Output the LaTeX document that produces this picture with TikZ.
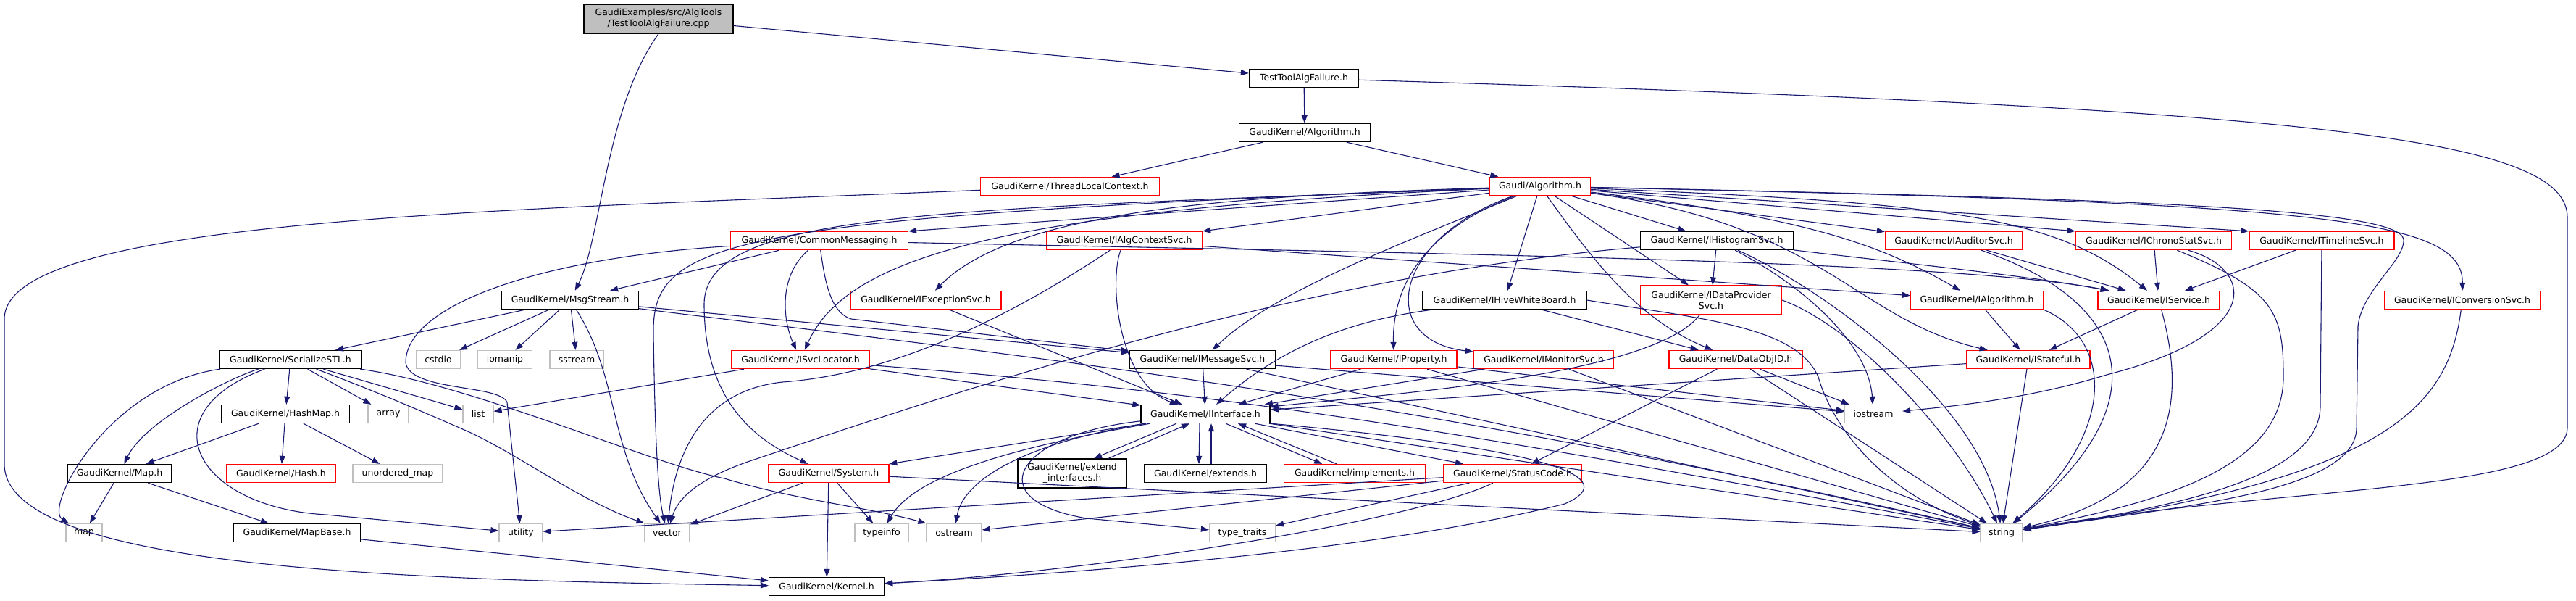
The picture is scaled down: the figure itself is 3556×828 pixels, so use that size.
\documentclass[tikz,border=0pt]{standalone}
\usepackage{fontspec}
\setmainfont{DejaVu Sans}
\usetikzlibrary{arrows.meta}
\definecolor{edgeblue}{HTML}{191970}
\definecolor{boxgray}{HTML}{BFBFBF}
\begin{document}
\begin{tikzpicture}[x=1pt, y=1pt,
    hdr/.style={draw=black, fill=white, line width=1.3pt, minimum height=25pt,
      inner sep=0pt, align=center, font=\fontsize{12.5}{15}\selectfont},
    redhdr/.style={hdr, draw=red},
    syshdr/.style={hdr, draw=boxgray},
    edge/.style={draw=edgeblue, line width=1.1pt, -{Triangle[length=11pt,width=8pt]}}]
    \useasboundingbox (0,0) rectangle (3556,-828);

    % source file and headers
    \node[hdr, fill=boxgray, minimum width=206pt, minimum height=40pt] (root) at (909,-26) {GaudiExamples/src/AlgTools\\/TestToolAlgFailure.cpp};
    \node[hdr, minimum width=151pt] (ttaf) at (1800,-108) {TestToolAlgFailure.h};
    \node[hdr, minimum width=181pt] (gkalg) at (1801,-183) {GaudiKernel/Algorithm.h};
    \node[redhdr, minimum width=247pt] (tlc) at (1477,-257) {GaudiKernel/ThreadLocalContext.h};
    \node[redhdr, minimum width=139pt] (galg) at (2126,-257) {Gaudi/Algorithm.h};
    \node[redhdr, minimum width=245pt] (cmsg) at (1131,-332) {GaudiKernel/CommonMessaging.h};
    \node[redhdr, minimum width=215pt] (iacs) at (1552,-332) {GaudiKernel/IAlgContextSvc.h};
    \node[hdr, minimum width=211pt] (ihist) at (2370,-332) {GaudiKernel/IHistogramSvc.h};
    \node[redhdr, minimum width=189pt] (iaud) at (2697,-332) {GaudiKernel/IAuditorSvc.h};
    \node[redhdr, minimum width=215pt] (ichrono) at (2973,-332) {GaudiKernel/IChronoStatSvc.h};
    \node[redhdr, minimum width=200pt] (itime) at (3205,-332) {GaudiKernel/ITimelineSvc.h};
    \node[hdr, minimum width=189pt] (msg) at (787,-414) {GaudiKernel/MsgStream.h};
    \node[redhdr, minimum width=208pt] (iexc) at (1278,-414) {GaudiKernel/IExceptionSvc.h};
    \node[hdr, minimum width=226pt] (ihive) at (2077,-414) {GaudiKernel/IHiveWhiteBoard.h};
    \node[redhdr, minimum width=195pt, minimum height=40pt] (idps) at (2362,-414) {GaudiKernel/IDataProvider\\Svc.h};
    \node[redhdr, minimum width=183pt] (ialgo) at (2729,-414) {GaudiKernel/IAlgorithm.h};
    \node[redhdr, minimum width=168pt] (isvc) at (2980,-414) {GaudiKernel/IService.h};
    \node[redhdr, minimum width=215pt] (iconv) at (3399,-414) {GaudiKernel/IConversionSvc.h};
    \node[hdr, minimum width=196pt] (ser) at (401,-496) {GaudiKernel/SerializeSTL.h};
    \node[syshdr, minimum width=61pt] (cstdio) at (605,-496) {cstdio};
    \node[syshdr, minimum width=75pt] (iomanip) at (697,-496) {iomanip};
    \node[syshdr, minimum width=74pt] (sstream) at (796,-496) {sstream};
    \node[redhdr, minimum width=190pt] (isl) at (1105,-496) {GaudiKernel/ISvcLocator.h};
    \node[hdr, minimum width=202pt] (imsgsvc) at (1660,-496) {GaudiKernel/IMessageSvc.h};
    \node[redhdr, minimum width=174pt] (iprop) at (1924,-496) {GaudiKernel/IProperty.h};
    \node[redhdr, minimum width=193pt] (imon) at (2131,-496) {GaudiKernel/IMonitorSvc.h};
    \node[redhdr, minimum width=184pt] (doid) at (2396,-496) {GaudiKernel/DataObjID.h};
    \node[redhdr, minimum width=170pt] (istate) at (2800,-496) {GaudiKernel/IStateful.h};
    \node[hdr, minimum width=177pt] (hmap) at (394,-571) {GaudiKernel/HashMap.h};
    \node[syshdr, minimum width=56pt] (array) at (536,-571) {array};
    \node[syshdr, minimum width=42pt] (list) at (660,-571) {list};
    \node[hdr, minimum width=178pt] (iint) at (1664,-571) {GaudiKernel/IInterface.h};
    \node[syshdr, minimum width=79pt] (iostream) at (2586,-571) {iostream};
    \node[hdr, minimum width=144pt] (gkmap) at (165,-653) {GaudiKernel/Map.h};
    \node[redhdr, minimum width=150pt] (hash) at (388,-653) {GaudiKernel/Hash.h};
    \node[syshdr, minimum width=124pt] (umap) at (549,-653) {unordered\_map};
    \node[redhdr, minimum width=166pt] (sys) at (1144,-653) {GaudiKernel/System.h};
    \node[hdr, minimum width=150pt, minimum height=40pt] (extif) at (1480,-653) {GaudiKernel/extend\\\_interfaces.h};
    \node[hdr, minimum width=169pt] (exts) at (1664,-653) {GaudiKernel/extends.h};
    \node[redhdr, minimum width=195pt] (impl) at (1870,-653) {GaudiKernel/implements.h};
    \node[redhdr, minimum width=190pt] (stc) at (2088,-653) {GaudiKernel/StatusCode.h};
    \node[syshdr, minimum width=50pt] (stlmap) at (116,-735) {map};
    \node[hdr, minimum width=175pt] (mapbase) at (410,-735) {GaudiKernel/MapBase.h};
    \node[syshdr, minimum width=60pt] (utility) at (719,-735) {utility};
    \node[syshdr, minimum width=62pt] (vector) at (921,-735) {vector};
    \node[syshdr, minimum width=74pt] (typeinfo) at (1217,-735) {typeinfo};
    \node[syshdr, minimum width=76pt] (ostream) at (1317,-735) {ostream};
    \node[syshdr, minimum width=91pt] (ttraits) at (1715,-735) {type\_traits};
    \node[syshdr, minimum width=58pt] (string) at (2763,-735) {string};
    \node[hdr, minimum width=159pt] (kernel) at (1141,-809) {GaudiKernel/Kernel.h};

    % top of the graph
    \draw[edge] (root) -- (ttaf);
    \draw[edge] (root.south) .. controls (835,-150) and (830,-330) .. (msg);
    \draw[edge] (ttaf) -- (gkalg);
    \draw[edge] (ttaf) .. controls (3200,-150) and (3544,-190) .. (3544,-300) -- (3544,-590) .. controls (3544,-680) and (3150,-670) .. (string);
    \draw[edge] (gkalg) -- (tlc);
    \draw[edge] (gkalg) -- (galg);
    \draw[edge] (tlc) .. controls (700,-290) and (6,-300) .. (6,-440) -- (6,-640) .. controls (6,-790) and (600,-800) .. (kernel);

    % Gaudi/Algorithm.h
    \draw[edge] (galg) -- (cmsg.north east);
    \draw[edge] (galg) -- (iacs.north east);
    \draw[edge] (galg) .. controls (1700,-270) and (1400,-290) .. (iexc);
    \draw[edge] (galg) .. controls (1400,-290) and (1170,-350) .. (isl);
    \draw[edge] (galg) .. controls (1300,-290) and (972,-290) .. (972,-420) .. controls (972,-560) and (1050,-610) .. (sys);
    \draw[edge] (galg) .. controls (1000,-300) and (900,-330) .. (902,-460) .. controls (904,-600) and (908,-680) .. (vector);
    \draw[edge] (galg) .. controls (1950,-330) and (1760,-400) .. (imsgsvc);
    \draw[edge] (galg) -- (ihive);
    \draw[edge] (galg) .. controls (1960,-320) and (1922,-400) .. (iprop);
    \draw[edge] (galg) .. controls (1920,-330) and (1900,-470) .. (imon);
    \draw[edge] (galg) .. controls (2200,-360) and (2260,-440) .. (doid);
    \draw[edge] (galg) -- (idps);
    \draw[edge] (galg) -- (ihist);
    \draw[edge] (galg) -- (iaud);
    \draw[edge] (galg) .. controls (2500,-300) and (2600,-340) .. (ialgo);
    \draw[edge] (galg) .. controls (2520,-310) and (2560,-440) .. (istate);
    \draw[edge] (galg) .. controls (2700,-280) and (2840,-300) .. (isvc);
    \draw[edge] (galg) -- (ichrono.north west);
    \draw[edge] (galg) -- (itime.north west);
    \draw[edge] (galg) .. controls (3200,-280) and (3400,-300) .. (iconv);
    \draw[edge] (galg) .. controls (3000,-275) and (3310,-290) .. (3318,-330) .. controls (3320,-360) and (3260,-400) .. (3255,-450) -- (3253,-590) .. controls (3253,-680) and (3000,-700) .. (string);

    % CommonMessaging.h
    \draw[edge] (cmsg) .. controls (750,-355) and (560,-420) .. (560,-500) .. controls (565,-540) and (690,-530) .. (700,-555) -- (utility);
    \draw[edge] (cmsg) -- (msg);
    \draw[edge] (cmsg) .. controls (1075,-380) and (1080,-440) .. (isl);
    \draw[edge] (cmsg) .. controls (1140,-400) and (1150,-432) .. (1175,-440) -- (imsgsvc);
    \draw[edge] (cmsg) .. controls (2000,-350) and (2700,-360) .. (isvc);

    % second row services
    \draw[edge] (iacs) .. controls (1530,-390) and (1545,-530) .. (iint);
    \draw[edge] (iacs) .. controls (1420,-420) and (1250,-515) .. (1080,-527) .. controls (960,-540) and (930,-640) .. (vector);
    \draw[edge] (iacs) -- (ialgo);
    \draw[edge] (ihist) -- (idps);
    \draw[edge] (ihist) .. controls (1800,-380) and (1350,-530) .. (1044,-633) .. controls (960,-660) and (935,-690) .. (vector);
    \draw[edge] (ihist) .. controls (2500,-400) and (2580,-480) .. (iostream);
    \draw[edge] (ihist) .. controls (2520,-400) and (2740,-560) .. (string);
    \draw[edge] (ihist) .. controls (2600,-360) and (2800,-380) .. (isvc);
    \draw[edge] (iaud) -- (isvc);
    \draw[edge] (iaud) .. controls (2950,-420) and (2980,-560) .. (string);
    \draw[edge] (ichrono) -- (isvc);
    \draw[edge] (ichrono) .. controls (3110,-370) and (3130,-460) .. (2908,-517) .. controls (2800,-550) and (2700,-560) .. (iostream);
    \draw[edge] (ichrono) .. controls (3140,-400) and (3152,-430) .. (3152,-520) .. controls (3152,-640) and (3000,-690) .. (string);
    \draw[edge] (itime) -- (isvc);
    \draw[edge] (itime) -- (3203,-560) .. controls (3203,-660) and (3000,-700) .. (string);
    \draw[edge] (iconv) .. controls (3380,-560) and (3300,-660) .. (string);

    % MsgStream.h
    \draw[edge] (msg) -- (ser);
    \draw[edge] (msg) -- (cstdio);
    \draw[edge] (msg) -- (iomanip);
    \draw[edge] (msg) -- (sstream);
    \draw[edge] (msg) .. controls (855,-520) and (840,-620) .. (vector);
    \draw[edge] (msg) -- (imsgsvc);
    \draw[edge] (msg) .. controls (1400,-490) and (1900,-540) .. (string);

    % SerializeSTL.h and maps
    \draw[edge] (ser) -- (hmap);
    \draw[edge] (ser) .. controls (320,-520) and (200,-580) .. (gkmap);
    \draw[edge] (ser) .. controls (150,-530) and (60,-700) .. (stlmap);
    \draw[edge] (ser) -- (array);
    \draw[edge] (ser) -- (list);
    \draw[edge] (ser) .. controls (650,-530) and (900,-640) .. (1000,-660) .. controls (1100,-690) and (1200,-700) .. (ostream.north west);
    \draw[edge] (ser) .. controls (200,-570) and (270,-700) .. (450,-710) -- (utility);
    \draw[edge] (ser) .. controls (520,-540) and (600,-575) .. (650,-597) .. controls (720,-630) and (800,-690) .. (vector.north west);
    \draw[edge] (hmap) -- (gkmap);
    \draw[edge] (hmap) -- (hash);
    \draw[edge] (hmap) -- (umap);
    \draw[edge] (gkmap) -- (stlmap);
    \draw[edge] (gkmap) -- (mapbase);
    \draw[edge] (mapbase) -- (kernel);

    % interfaces
    \draw[edge] (isl) -- (list);
    \draw[edge] (isl) -- (iint);
    \draw[edge] (isl) .. controls (1600,-535) and (1900,-570) .. (string);
    \draw[edge] (iexc) -- (iint);
    \draw[edge] (imsgsvc) -- (iint);
    \draw[edge] (imsgsvc) -- (iostream);
    \draw[edge] (imsgsvc) -- (string);
    \draw[edge] (ihive) .. controls (1880,-440) and (1780,-470) .. (iint);
    \draw[edge] (ihive) -- (doid);
    \draw[edge] (ihive.east) .. controls (2350,-440) and (2480,-450) .. (2510,-520) .. controls (2530,-590) and (2600,-680) .. (string);
    \draw[edge] (idps) .. controls (2280,-520) and (1900,-545) .. (iint);
    \draw[edge] (idps.east) .. controls (2560,-450) and (2700,-600) .. (string);
    \draw[edge] (iprop) -- (iint);
    \draw[edge] (iprop) -- (iostream);
    \draw[edge] (iprop) -- (string);
    \draw[edge] (imon) -- (iint);
    \draw[edge] (imon) -- (string);
    \draw[edge] (doid) -- (stc);
    \draw[edge] (doid) -- (iostream);
    \draw[edge] (doid) -- (string);
    \draw[edge] (istate) -- (iint);
    \draw[edge] (istate) -- (string);
    \draw[edge] (ialgo) -- (istate);
    \draw[edge] (ialgo.south east) .. controls (2920,-470) and (2920,-600) .. (string);
    \draw[edge] (isvc) -- (istate);
    \draw[edge] (isvc) .. controls (3020,-560) and (3000,-680) .. (string);

    % IInterface.h
    \draw[edge] (iint) -- (sys);
    \draw[edge] (iint) .. controls (1380,-620) and (1260,-660) .. (typeinfo);
    \draw[edge] (iint) .. controls (1420,-610) and (1330,-660) .. (ostream);
    \draw[edge] (iint) .. controls (1400,-600) and (1350,-690) .. (1500,-715) -- (ttraits);
    \draw[edge] ([xshift=-40pt]iint.south) -- ([xshift=30pt]extif.north);
    \draw[edge] ([xshift=50pt]extif.north) -- ([xshift=-22pt]iint.south);
    \draw[edge] ([xshift=-8pt]iint.south) -- ([xshift=-9pt]exts.north);
    \draw[edge] ([xshift=8pt]exts.north) -- ([xshift=8pt]iint.south);
    \draw[edge] ([xshift=28pt]iint.south) -- ([xshift=-45pt]impl.north);
    \draw[edge] ([xshift=-25pt]impl.north) -- ([xshift=45pt]iint.south);
    \draw[edge] (iint) -- (stc);
    \draw[edge] (iint) -- (string);
    \draw[edge] (iint.south east) .. controls (2150,-620) and (2240,-660) .. (2160,-695) .. controls (1900,-760) and (1500,-790) .. (kernel);

    % StatusCode.h and System.h
    \draw[edge] (stc) -- (ttraits);
    \draw[edge] (stc) -- (ostream);
    \draw[edge] (stc) -- (utility);
    \draw[edge] (stc) .. controls (1950,-720) and (1500,-790) .. (kernel);
    \draw[edge] (sys) -- (vector);
    \draw[edge] (sys) -- (typeinfo);
    \draw[edge] (sys) -- (kernel);
    \draw[edge] (sys) -- (string);
\end{tikzpicture}
\end{document}
